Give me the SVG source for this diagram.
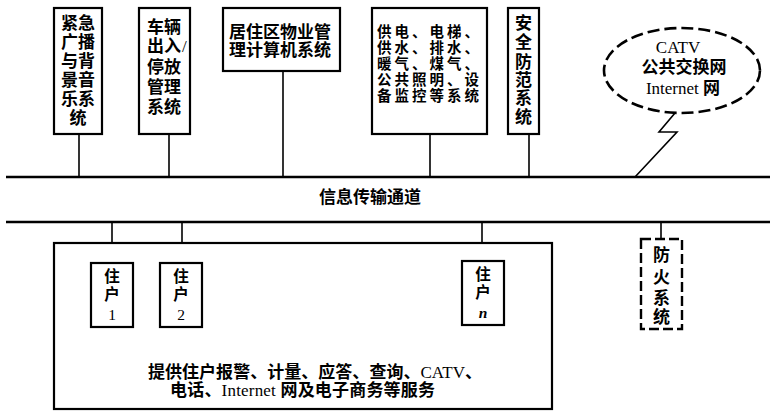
<svg xmlns="http://www.w3.org/2000/svg" width="774" height="411" viewBox="0 0 774 411">
<style>
.box{fill:#fff;stroke:#000;stroke-width:2.2}
.dbox{fill:#fff;stroke:#000;stroke-width:2.4;stroke-dasharray:10 4}
.con{fill:none;stroke:#000;stroke-width:1.6}
.bus{fill:none;stroke:#000;stroke-width:2.6}
text{font-family:"Liberation Serif","Noto Sans CJK SC",serif;font-size:17px;font-weight:bold;fill:#000}
.m{text-anchor:middle}
.lat{font-weight:normal}
.u{font-size:14.5px;letter-spacing:3px}
.r{font-size:15.5px}
</style>
<rect width="774" height="411" fill="#fff"/>
<g id="connectors">
<line class="bus" x1="6" y1="177" x2="770" y2="177"/>
<line class="bus" x1="6" y1="222" x2="770" y2="222"/>
<line class="con" x1="79" y1="134" x2="79" y2="177"/>
<line class="con" x1="169" y1="134" x2="169" y2="177"/>
<line class="con" x1="283" y1="71" x2="283" y2="177"/>
<line class="con" x1="430" y1="134" x2="430" y2="177"/>
<line class="con" x1="529" y1="134" x2="529" y2="177"/>
<polyline class="con" points="675,113 659,132 677,132 635,177"/>
<line class="con" x1="112" y1="222" x2="112" y2="263"/>
<line class="con" x1="182" y1="222" x2="182" y2="263"/>
<line class="con" x1="482" y1="222" x2="482" y2="261"/>
<line class="con" x1="661" y1="222" x2="661" y2="239"/>
</g>
<text id="channel" class="m" x="370" y="203">信息传输通道</text>
<g id="broadcast">
<rect class="box" x="54" y="8" width="48" height="126"/>
<text class="m" x="78" y="29">紧急</text>
<text class="m" x="78" y="48">广播</text>
<text class="m" x="78" y="67">与背</text>
<text class="m" x="78" y="86">景音</text>
<text class="m" x="78" y="105">乐系</text>
<text class="m" x="78" y="124">统</text>
</g>
<g id="parking">
<rect class="box" x="139" y="8" width="51" height="126"/>
<text x="147" y="33" font-size="16">车辆</text>
<text x="147" y="52" font-size="16">出入<tspan x="182" class="lat">/</tspan></text>
<text x="147" y="73" font-size="16">停放</text>
<text x="147" y="93" font-size="16">管理</text>
<text x="147" y="113" font-size="16">系统</text>
</g>
<g id="property">
<rect class="box" x="223" y="8" width="117" height="63"/>
<text x="229" y="38" font-size="17.5">居住区物业管</text>
<text x="229" y="56" font-size="17.5">理计算机系统</text>
</g>
<g id="utilities">
<rect class="box" x="372" y="8" width="115" height="126"/>
<text class="u" x="377" y="37">供电、电梯、</text>
<text class="u" x="377" y="53">供水、排水、</text>
<text class="u" x="377" y="69">暖气、煤气、</text>
<text class="u" x="377" y="85">公共照明、设</text>
<text class="u" x="377" y="101">备监控等系统</text>
</g>
<g id="security">
<rect class="box" x="508" y="8" width="31" height="126"/>
<text class="m" x="523.5" y="29">安</text>
<text class="m" x="523.5" y="48">全</text>
<text class="m" x="523.5" y="68">防</text>
<text class="m" x="523.5" y="86">范</text>
<text class="m" x="523.5" y="104">系</text>
<text class="m" x="523.5" y="123">统</text>
</g>
<g id="external">
<ellipse cx="682" cy="70.5" rx="78" ry="42.5" fill="#fff" stroke="#000" stroke-width="2.6" stroke-dasharray="12 5"/>
<text class="m lat" x="678" y="53" font-size="16">CATV</text>
<text class="m" x="684" y="73" font-size="16">公共交换网</text>
<text class="m" x="683" y="94" font-size="16"><tspan class="lat">Internet </tspan>网</text>
</g>
<g id="residents">
<rect class="box" x="54" y="243" width="498" height="166"/>
<text x="148" y="378" textLength="334" lengthAdjust="spacing">提供住户报警、计量、应答、查询、<tspan class="lat">CATV</tspan>、</text>
<text x="170" y="396" textLength="265" lengthAdjust="spacing">电话、<tspan class="lat">Internet </tspan>网及电子商务等服务</text>
</g>
<g id="resident1">
<rect class="box" x="91" y="263" width="42" height="64"/>
<text class="m r" x="112" y="282">住</text>
<text class="m r" x="112" y="300">户</text>
<text class="m r lat" x="112" y="320">1</text>
</g>
<g id="resident2">
<rect class="box" x="160" y="263" width="42" height="64"/>
<text class="m r" x="181" y="282">住</text>
<text class="m r" x="181" y="300">户</text>
<text class="m r lat" x="181" y="320">2</text>
</g>
<g id="residentn">
<rect class="box" x="462" y="261" width="42" height="64"/>
<text class="m r" x="483" y="280">住</text>
<text class="m r" x="483" y="298">户</text>
<text class="m r" x="483" y="318" font-style="italic">n</text>
</g>
<g id="fire">
<rect class="dbox" x="641" y="239" width="41" height="90"/>
<text class="m" x="661.5" y="261">防</text>
<text class="m" x="661.5" y="283">火</text>
<text class="m" x="661.5" y="304">系</text>
<text class="m" x="661.5" y="323">统</text>
</g>
</svg>
